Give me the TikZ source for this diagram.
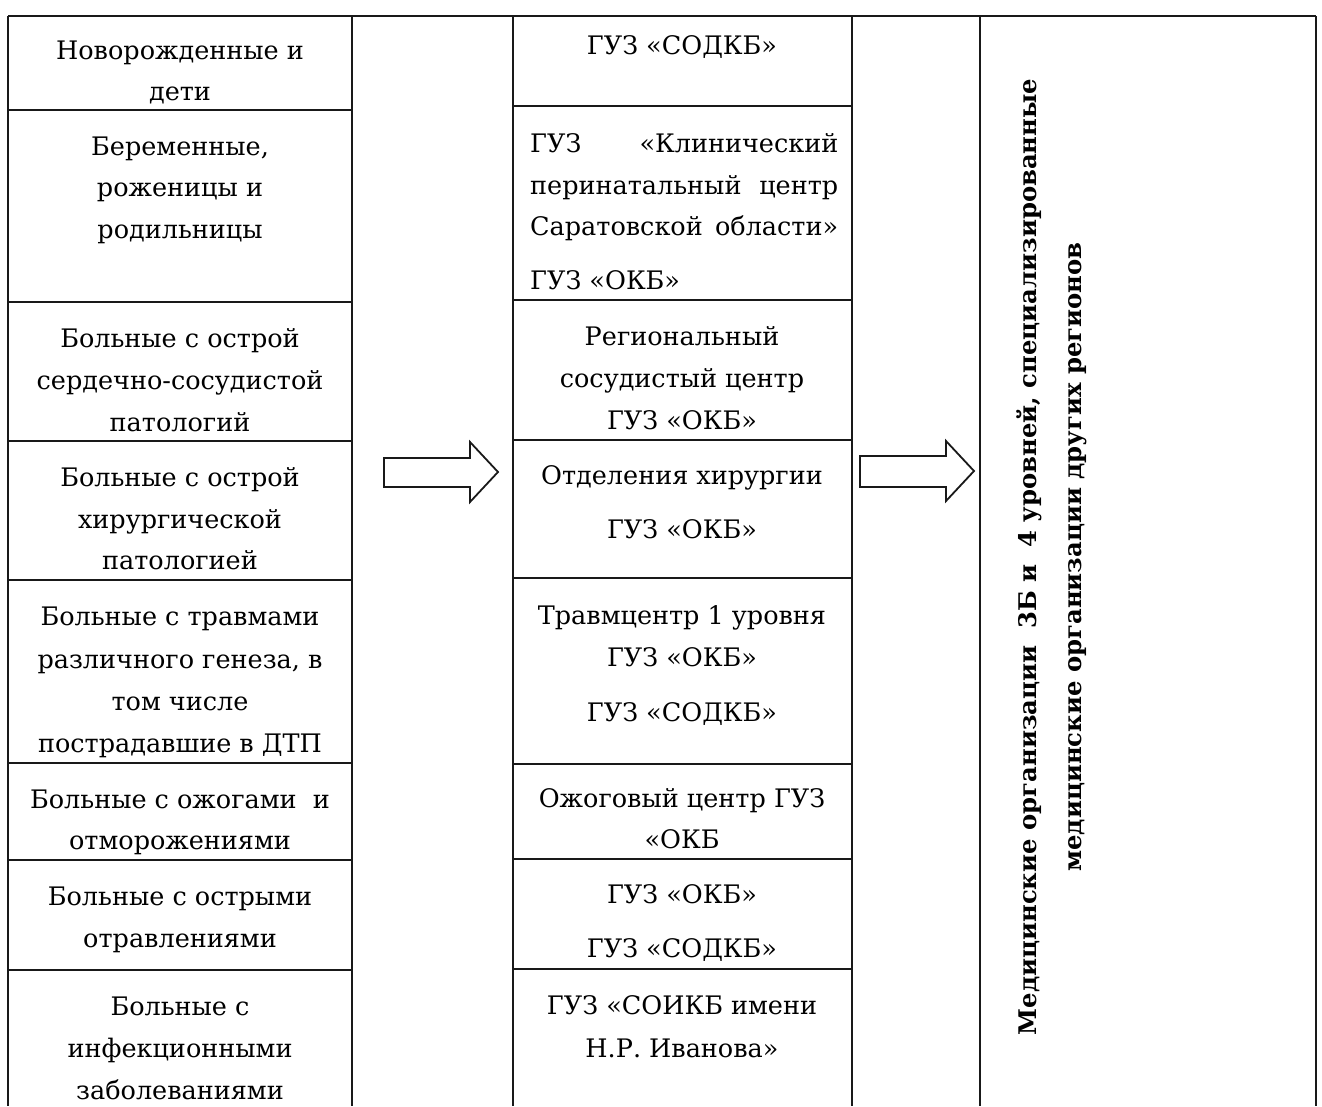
\documentclass[tikz,border=0pt]{standalone}
\usepackage{fontspec}
\setmainfont{DejaVu Serif}
\begin{document}
\begin{tikzpicture}[x=1pt,y=-1pt,
  grid/.style={line width=1.8pt,black!90},
  ln/.style={inner sep=0pt,text height=18pt,text depth=5pt,font=\fontsize{25.5}{29}\selectfont},
  rl/.style={ln,rotate=90,font=\bfseries\fontsize{24.3}{28}\selectfont},
  blockarrow/.style={draw,line width=1.8pt,black!90,line join=miter}]
\useasboundingbox (0,0) rectangle (1322,1106);
% frame
\draw[grid] (8,16) -- (1316,16);
\foreach \xx in {8,352,513,852,980,1316} \draw[grid] (\xx,16) -- (\xx,1106);
\foreach \yy in {110,302,441,580,763,860,970} \draw[grid] (8,\yy) -- (352,\yy);
\foreach \yy in {106,300,440,578,764,859,969} \draw[grid] (513,\yy) -- (852,\yy);
% left column
\node[ln] (l1a) at (180,53) {Новорожденные и};
\node[ln] (l1b) at (180,94) {дети};
\node[ln] (l2a) at (180,149) {Беременные,};
\node[ln] (l2b) at (180,190) {роженицы и};
\node[ln] (l2c) at (180,232) {родильницы};
\node[ln] (l3a) at (180,341) {Больные с острой};
\node[ln] (l3b) at (180,383) {сердечно-сосудистой};
\node[ln] (l3c) at (180,425) {патологий};
\node[ln] (l4a) at (180,480) {Больные с острой};
\node[ln] (l4b) at (180,522) {хирургической};
\node[ln] (l4c) at (180,563) {патологией};
\node[ln] (l5a) at (180,619) {Больные с травмами};
\node[ln] (l5b) at (180,662) {различного генеза, в};
\node[ln] (l5c) at (180,704) {том числе};
\node[ln] (l5d) at (180,746) {пострадавшие в ДТП};
\node[ln] (l6a) at (180,802) {Больные с ожогами\ \ и};
\node[ln] (l6b) at (180,843) {отморожениями};
\node[ln] (l7a) at (180,899) {Больные с острыми};
\node[ln] (l7b) at (180,941) {отравлениями};
\node[ln] (l8a) at (180,1009) {Больные с};
\node[ln] (l8b) at (180,1051) {инфекционными};
\node[ln] (l8c) at (180,1093) {заболеваниями};
% middle column
\node[ln] (m1a) at (682,48) {ГУЗ «СОДКБ»};
\node[ln,anchor=west,text width=308pt] (m2a) at (530,146) {ГУЗ\hfill«Клинический};
\node[ln,anchor=west,text width=308pt] (m2b) at (530,188) {перинатальный\hfill центр};
\node[ln,anchor=west,text width=308pt] (m2c) at (530,229) {Саратовской\hfill области»};
\node[ln,anchor=west] (m2d) at (530,283) {ГУЗ «ОКБ»};
\node[ln] (m3a) at (682,339) {Региональный};
\node[ln] (m3b) at (682,381) {сосудистый центр};
\node[ln] (m3c) at (682,423) {ГУЗ «ОКБ»};
\node[ln] (m4a) at (682,478) {Отделения хирургии};
\node[ln] (m4b) at (682,532) {ГУЗ «ОКБ»};
\node[ln] (m5a) at (682,618) {Травмцентр 1 уровня};
\node[ln] (m5b) at (682,660) {ГУЗ «ОКБ»};
\node[ln] (m5c) at (682,715) {ГУЗ «СОДКБ»};
\node[ln] (m6a) at (682,801) {Ожоговый центр ГУЗ};
\node[ln] (m6b) at (682,842) {«ОКБ};
\node[ln] (m7a) at (682,897) {ГУЗ «ОКБ»};
\node[ln] (m7b) at (682,951) {ГУЗ «СОДКБ»};
\node[ln] (m8a) at (682,1008) {ГУЗ «СОИКБ имени};
\node[ln] (m8b) at (682,1051) {Н.Р. Иванова»};
% right column
\node[rl] (r1) at (1030,557) {Медицинские организации\ \ 3Б и\ \ 4 уровней, специализированные};
\node[rl] (r2) at (1075,557) {медицинские организации других регионов};
% arrows
\draw[blockarrow] (384,458) -- (470,458) -- (470,442) -- (498,472) -- (470,502) -- (470,487) -- (384,487) -- cycle;
\draw[blockarrow] (860,456) -- (946,456) -- (946,441) -- (974,471) -- (946,501) -- (946,487) -- (860,487) -- cycle;
\end{tikzpicture}
\end{document}
